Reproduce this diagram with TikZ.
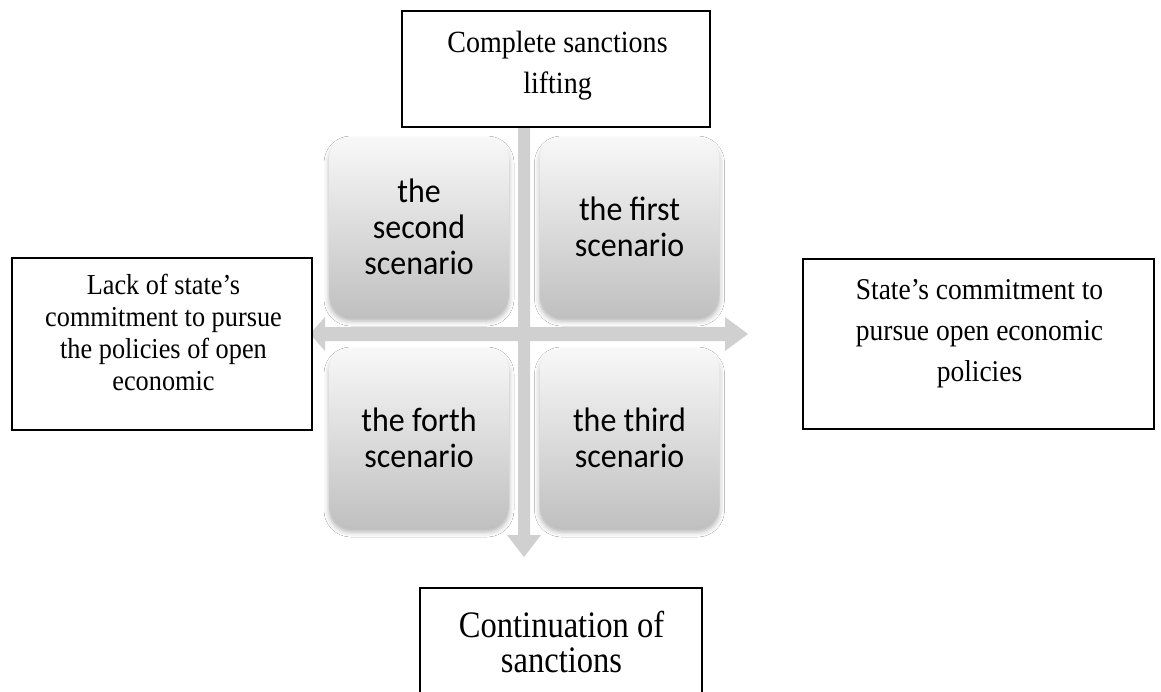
\documentclass[tikz,border=0pt]{standalone}
\usepackage{fontspec}
\setmainfont[FakeStretch=0.91]{Liberation Serif}
\newfontfamily\botfont[FakeStretch=0.87]{Liberation Serif}
\newfontfamily\scenfont[FakeStretch=0.94]{Carlito}
\usetikzlibrary{shadows.blur,calc}
\definecolor{axisgray}{HTML}{D0D0D0}
\definecolor{boxtop}{HTML}{F8F8F8}
\definecolor{boxbot}{HTML}{C0C0C0}
\tikzset{
  scen/.style={rectangle, rounded corners=22pt, minimum width=180pt, minimum height=180pt,
    top color=boxtop, bottom color=boxbot,
    blur shadow={shadow xshift=0pt, shadow yshift=-4pt, shadow blur radius=5pt, shadow opacity=30},
    align=center, text=black, font=\scenfont\fontsize{34}{36}\selectfont},
  tbox/.style={rectangle, draw=black, line width=1.2pt, fill=white, inner sep=0pt},
  ttext/.style={align=center, inner sep=0pt, text=black}
}
\begin{document}
\begin{tikzpicture}[x=1pt,y=-1pt]
\useasboundingbox (0,0) rectangle (1161,691);
\clip (0,0) rectangle (1161,691);
\fill[white] (0,0) rectangle (1161,691);
% axes
\fill[axisgray] (310,334) -- (325,317) -- (325,327) -- (725,327) -- (725,317) -- (748,334)
  -- (725,351) -- (725,341) -- (325,341) -- (325,351) -- cycle;
\fill[axisgray] (524,100) -- (541,118) -- (530,118) -- (530,535) -- (541,535) -- (524,557)
  -- (507,535) -- (518,535) -- (518,118) -- (507,118) -- cycle;
% scenarios
\node[scen] (s2) at (419,227) {the\\second\\scenario};
\node[scen] (s1) at (629.5,227) {the first\\scenario};
\node[scen] (s4) at (419,438) {the forth\\scenario};
\node[scen] (s3) at (629.5,438) {the third\\scenario};
% boxes
\node[tbox, minimum width=308pt, minimum height=116pt] (top) at (556,69) {};
\node[ttext, font=\fontsize{30.8}{41}\selectfont] (topT) at (557.5,66) {Complete sanctions\\lifting};
\node[tbox, minimum width=300pt, minimum height=172pt] (left) at (162,344) {};
\node[ttext, font=\fontsize{28.9}{31.7}\selectfont] (leftT) at (163.5,332.5) {Lack of state’s\\commitment to pursue\\the policies of open\\economic};
\node[tbox, minimum width=351pt, minimum height=170pt] (right) at (978.5,344) {};
\node[ttext, font=\fontsize{30.2}{41}\selectfont] (rightT) at (979.5,333.5) {State’s commitment to\\pursue open economic\\policies};
\node[tbox, minimum width=282pt, minimum height=140pt] (bot) at (561,658) {};
\node[ttext, font=\botfont\fontsize{37.4}{35}\selectfont] (botT) at (561.5,642) {Continuation of\\sanctions};
\end{tikzpicture}
\end{document}
